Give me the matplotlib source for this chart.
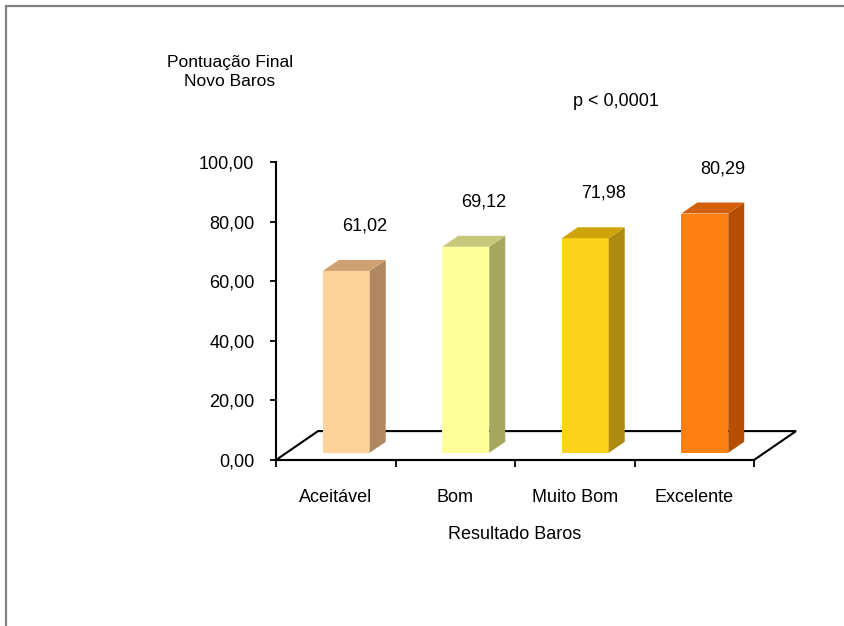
import matplotlib
matplotlib.use("Agg")
import matplotlib.pyplot as plt
from matplotlib.patches import Rectangle
from matplotlib.ticker import FuncFormatter

plt.rcParams['font.family'] = ['Liberation Sans', 'DejaVu Sans']

categorias = ["Aceitável", "Bom", "Muito Bom", "Excelente"]
pontuacao = [61.02, 69.12, 71.98, 80.29]
cor_frente = ["#FDD39B", "#FFFF99", "#FDD31A", "#FF7F10"]
cor_lado = ["#AF8860", "#A6A65C", "#AE8A10", "#B64E00"]
cor_topo = ["#CFA172", "#C8C87A", "#CFA40A", "#D5600C"]
y_ticks = [0, 20, 40, 60, 80, 100]


def virgula(v, pos=None):
    return f"{v:.2f}".replace(".", ",")


fig = plt.figure(figsize=(8.44, 6.26), dpi=100)

# moldura cinza da area do grafico
fig.patches.append(Rectangle((6 / 844, -0.05), 1.2, 1.05 - 7 / 626 + 0.001,
                             transform=fig.transFigure, fill=False,
                             edgecolor="#808080", lw=1.6))

ax = fig.add_axes([276 / 844, 166 / 626, 478 / 844, 298 / 626])
ax.set_xlim(-0.5, 3.5)
ax.set_ylim(0, 100)

# profundidade do "chao" 3D (em unidades de categoria / valor)
dx, dy = 0.352, 9.7
d0, d1 = 0.25, 0.63          # frente e fundo das barras
larg = 0.393

# chao
xs = [-0.5, 3.5, 3.5 + dx, -0.5 + dx, -0.5]
ys = [0, 0, dy, dy, 0]
ax.fill(xs, ys, color="white", zorder=1, clip_on=False)
ax.plot(xs, ys, color="black", lw=1.5, zorder=2, clip_on=False,
        solid_joinstyle="miter")

# barras: face frontal + lateral + topo
x0 = [i - larg / 2 + d0 * dx for i in range(len(categorias))]
base = d0 * dy
ax.bar(x0, pontuacao, width=larg, bottom=base, align="edge",
       color=cor_frente, zorder=3, linewidth=0)
sx, sy = (d1 - d0) * dx, (d1 - d0) * dy
for i, v in enumerate(pontuacao):
    xr = x0[i] + larg
    topo = base + v
    ax.fill([xr, xr + sx, xr + sx, xr], [base, base + sy, topo + sy, topo],
            color=cor_lado[i], zorder=3, lw=0)
    ax.fill([x0[i], xr, xr + sx, x0[i] + sx], [topo, topo, topo + sy, topo + sy],
            color=cor_topo[i], zorder=3, lw=0)
    ax.text(i + 0.24, v + 17.5, virgula(v), ha="center", va="center",
            fontsize=13, zorder=5)

# eixos
for s in ["top", "right"]:
    ax.spines[s].set_visible(False)
ax.spines["left"].set_linewidth(1.5)
ax.spines["bottom"].set_linewidth(1.5)
ax.spines["left"].set_zorder(4)
ax.patch.set_visible(False)

ax.set_yticks(y_ticks)
ax.yaxis.set_major_formatter(FuncFormatter(virgula))
ax.tick_params(axis="y", direction="out", length=4.5, width=1.3, pad=11,
               labelsize=13)

ax.set_xticks([-0.5, 0.5, 1.5, 2.5, 3.5])
ax.set_xticklabels([])
ax.set_xticks(range(len(categorias)), minor=True)
ax.set_xticklabels(categorias, minor=True)
ax.tick_params(axis="x", which="major", direction="out", length=5, width=1.3)
ax.tick_params(axis="x", which="minor", length=0, pad=21, labelsize=13)

ax.set_xlabel("Resultado Baros", fontsize=13, labelpad=14)

fig.text(230 / 844, 1 - 72 / 626, "Pontuação Final\nNovo Baros",
         ha="center", va="center", fontsize=12.5, linespacing=1.25)
fig.text(616 / 844, 1 - 102 / 626, "p < 0,0001", ha="center", va="center",
         fontsize=13)

fig.savefig("out.png", dpi=100)
